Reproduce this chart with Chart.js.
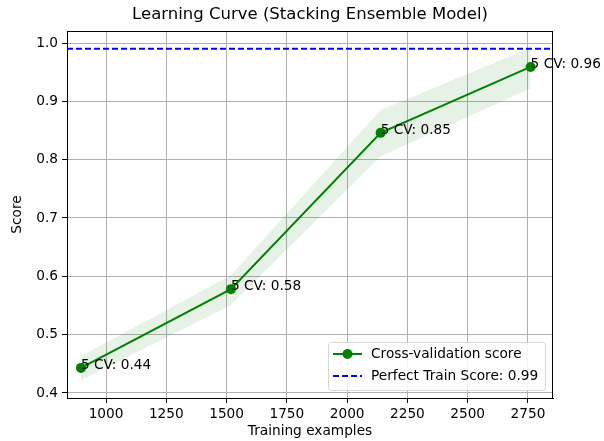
<!DOCTYPE html>
<html lang="en">
<head>
  <meta charset="UTF-8" />
  <title>Learning Curve</title>
  <script src="https://cdn.jsdelivr.net/npm/chart.js"></script>
  <style>
    html, body { margin: 0; padding: 0; background: #fff; }
    #wrap { width: 604px; height: 441px; }
  </style>
</head>
<body>
  <div id="wrap"><canvas id="curve" width="604" height="441"></canvas></div>
  <script>
    // data
    const trainSizes = [896, 1518, 2139, 2761];
    const cvScores = [0.443, 0.578, 0.846, 0.959];
    const cvUpper = [0.463, 0.602, 0.885, 0.992];
    const cvLower = [0.422, 0.551, 0.806, 0.922];
    const perfectScore = 0.99;
    const cvLabels = ['5 CV: 0.44', '5 CV: 0.58', '5 CV: 0.85', '5 CV: 0.96'];
    const xTicks = [1000, 1250, 1500, 1750, 2000, 2250, 2500, 2750];
    const yTicks = [0.4, 0.5, 0.6, 0.7, 0.8, 0.9, 1.0];
    const xRange = [838, 2854];
    const yRange = [0.3914, 1.0206];

    const FONT = 'DejaVu Sans';
    const TXT = 13.7;
    const green = '#008000';
    const blue = '#0000ff';

    const pts = (ys) => trainSizes.map((x, i) => ({ x: x, y: ys[i] }));

    // title, frame, point labels and legend
    const extras = {
      id: 'extras',
      afterDatasetsDraw(chart) {
        const { ctx, chartArea: a, scales: { x, y } } = chart;
        ctx.save();
        // frame
        ctx.strokeStyle = '#000';
        ctx.lineWidth = 1;
        ctx.strokeRect(a.left + 0.5, a.top + 0.5, a.right - a.left - 1, a.bottom - a.top);
        // point labels
        ctx.fillStyle = '#000';
        ctx.font = TXT + 'px "' + FONT + '"';
        ctx.textAlign = 'left';
        ctx.textBaseline = 'alphabetic';
        trainSizes.forEach((t, i) => {
          ctx.fillText(cvLabels[i], x.getPixelForValue(t), y.getPixelForValue(cvScores[i]) + 1);
        });
        // title
        ctx.font = '16.5px "' + FONT + '"';
        ctx.textAlign = 'center';
        ctx.textBaseline = 'middle';
        ctx.fillText('Learning Curve (Stacking Ensemble Model)', (a.left + a.right) / 2, 15);
        // legend
        const lx = 328, ly = 342, lw = 217, lh = 48;
        ctx.fillStyle = 'rgba(255,255,255,0.85)';
        ctx.strokeStyle = '#d6d6d6';
        ctx.lineWidth = 1;
        ctx.beginPath();
        ctx.roundRect(lx + 0.5, ly + 0.5, lw, lh, 3);
        ctx.fill();
        ctx.stroke();
        ctx.lineWidth = 2;
        ctx.strokeStyle = green;
        ctx.beginPath();
        ctx.moveTo(lx + 5, ly + 12);
        ctx.lineTo(lx + 34, ly + 12);
        ctx.stroke();
        ctx.fillStyle = green;
        ctx.beginPath();
        ctx.arc(lx + 19.5, ly + 12, 5, 0, Math.PI * 2);
        ctx.fill();
        ctx.strokeStyle = blue;
        ctx.setLineDash([6, 3]);
        ctx.beginPath();
        ctx.moveTo(lx + 5, ly + 34);
        ctx.lineTo(lx + 34, ly + 34);
        ctx.stroke();
        ctx.setLineDash([]);
        ctx.fillStyle = '#000';
        ctx.font = TXT + 'px "' + FONT + '"';
        ctx.textAlign = 'left';
        ctx.fillText('Cross-validation score', lx + 43, ly + 12);
        ctx.fillText('Perfect Train Score: 0.99', lx + 43, ly + 34);
        ctx.restore();
      }
    };

    new Chart(document.getElementById('curve'), {
      type: 'line',
      data: {
        datasets: [
          {
            label: 'upper',
            data: pts(cvUpper),
            borderWidth: 0,
            pointRadius: 0,
            backgroundColor: 'rgba(0,128,0,0.1)',
            fill: '+1',
            order: 3
          },
          {
            label: 'lower',
            data: pts(cvLower),
            borderWidth: 0,
            pointRadius: 0,
            fill: false,
            order: 3
          },
          {
            label: 'Cross-validation score',
            data: pts(cvScores),
            borderColor: green,
            backgroundColor: green,
            borderWidth: 2,
            pointRadius: 5,
            pointBorderWidth: 0,
            fill: false,
            order: 1
          },
          {
            label: 'Perfect Train Score: 0.99',
            data: [{ x: xRange[0], y: perfectScore }, { x: xRange[1], y: perfectScore }],
            borderColor: blue,
            borderWidth: 2,
            borderDash: [6, 3],
            pointRadius: 0,
            fill: false,
            order: 0
          }
        ]
      },
      options: {
        responsive: false,
        animation: false,
        layout: { padding: { top: 31, right: 51, left: 0, bottom: 0 } },
        plugins: {
          legend: { display: false },
          tooltip: { enabled: false }
        },
        scales: {
          x: {
            type: 'linear',
            min: xRange[0],
            max: xRange[1],
            afterBuildTicks: (s) => { s.ticks = xTicks.map(v => ({ value: v })); },
            afterFit: (s) => { s.height = 43; },
            ticks: {
              color: '#000',
              font: { family: FONT, size: TXT },
              padding: 3,
              maxRotation: 0,
              callback: (v) => String(v)
            },
            grid: { color: '#b0b0b0', tickColor: '#000', tickLength: 5, lineWidth: 1 },
            border: { color: '#000' },
            title: {
              display: true,
              text: 'Training examples',
              color: '#000',
              font: { family: FONT, size: TXT },
              padding: { top: 0, bottom: 1 }
            }
          },
          y: {
            type: 'linear',
            min: yRange[0],
            max: yRange[1],
            afterBuildTicks: (s) => { s.ticks = yTicks.map(v => ({ value: v })); },
            afterFit: (s) => { s.width = 67; },
            ticks: {
              color: '#000',
              font: { family: FONT, size: TXT },
              padding: 4,
              callback: (v) => v.toFixed(1)
            },
            grid: { color: '#b0b0b0', tickColor: '#000', tickLength: 5, lineWidth: 1 },
            border: { color: '#000' },
            title: {
              display: true,
              text: 'Score',
              color: '#000',
              font: { family: FONT, size: TXT },
              padding: { top: 9, bottom: 4 }
            }
          }
        }
      },
      plugins: [extras]
    });
  </script>
</body>
</html>
